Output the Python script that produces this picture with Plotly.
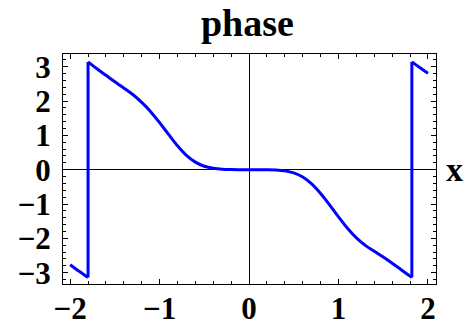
import plotly.graph_objects as go

# Sampled phase curve (radians); a repeated x marks a 2π wrap.
x_vals = [-2.0, -1.9, -1.80, -1.80, -1.7, -1.6, -1.5, -1.4, -1.3, -1.2, -1.1,
          -1.0, -0.9, -0.8, -0.7, -0.6, -0.5, -0.4, -0.3, -0.2, -0.1, 0.0,
          0.1, 0.2, 0.3, 0.4, 0.5, 0.6, 0.7, 0.8, 0.9, 1.0, 1.1, 1.2, 1.3,
          1.4, 1.5, 1.6, 1.7, 1.8, 1.82, 1.82, 1.9, 2.0]
phase_vals = [-2.77, -2.96, -3.14, 3.14, 2.94, 2.75, 2.56, 2.38, 2.19, 1.96, 1.69,
              1.37, 1.03, 0.70, 0.42, 0.22, 0.10, 0.04, 0.01, 0.002, 0.0003, 0.0,
              -0.0003, -0.002, -0.01, -0.035, -0.095, -0.215, -0.415, -0.695, -1.025, -1.375, -1.705, -1.985, -2.205,
              -2.375, -2.545, -2.725, -2.915, -3.10, -3.14, 3.14, 2.99, 2.81]

x_ticks = [-2, -1, 0, 1, 2]
y_ticks = [-3, -2, -1, 0, 1, 2, 3]

serif = "Liberation Serif"
blue = "#0000ff"

fig = go.Figure()

# Split at the wraps: smooth pieces between them, straight vertical jumps.
cuts = [i for i in range(1, len(x_vals)) if x_vals[i] == x_vals[i - 1]]
starts = [0] + cuts
ends = cuts + [len(x_vals)]
for s, e in zip(starts, ends):
    fig.add_trace(go.Scatter(
        x=x_vals[s:e], y=phase_vals[s:e], mode="lines",
        line=dict(color=blue, width=3, shape="spline", smoothing=0.9),
        hoverinfo="skip",
    ))
for c in cuts:
    fig.add_trace(go.Scatter(
        x=x_vals[c - 1:c + 1], y=phase_vals[c - 1:c + 1], mode="lines",
        line=dict(color=blue, width=3), hoverinfo="skip",
    ))

axis_common = dict(
    showline=True, linecolor="black", linewidth=1, mirror="allticks",
    ticks="inside", ticklen=5, tickwidth=1, tickcolor="black",
    showgrid=False, zeroline=True, zerolinecolor="black", zerolinewidth=1,
    automargin=False,
    tickfont=dict(family=serif, size=31, color="black", weight="bold"),
    minor=dict(ticks="inside", ticklen=3, tickwidth=1, tickcolor="black", dtick=0.2),
)

fig.update_xaxes(range=[-2.08, 2.09], tickvals=x_ticks, ticklabelstandoff=-3, **axis_common)
fig.update_yaxes(range=[-3.33, 3.37], tickvals=y_ticks, ticklabelstandoff=5, **axis_common)

fig.update_layout(
    width=465, height=328,
    margin=dict(l=63, r=29, t=54, b=44, autoexpand=False),
    paper_bgcolor="white", plot_bgcolor="white",
    showlegend=False,
    title=dict(text="phase", x=0.532, xanchor="center", y=1, yref="paper",
               yanchor="bottom", pad=dict(b=18), automargin=False,
               font=dict(family=serif, size=38, color="black", weight="bold")),
    annotations=[dict(text="x", xref="paper", yref="y", x=1.0, y=0,
                      xanchor="left", yanchor="middle", xshift=8, showarrow=False,
                      font=dict(family=serif, size=34, color="black", weight="bold"))],
)

fig.write_html("out.html")
